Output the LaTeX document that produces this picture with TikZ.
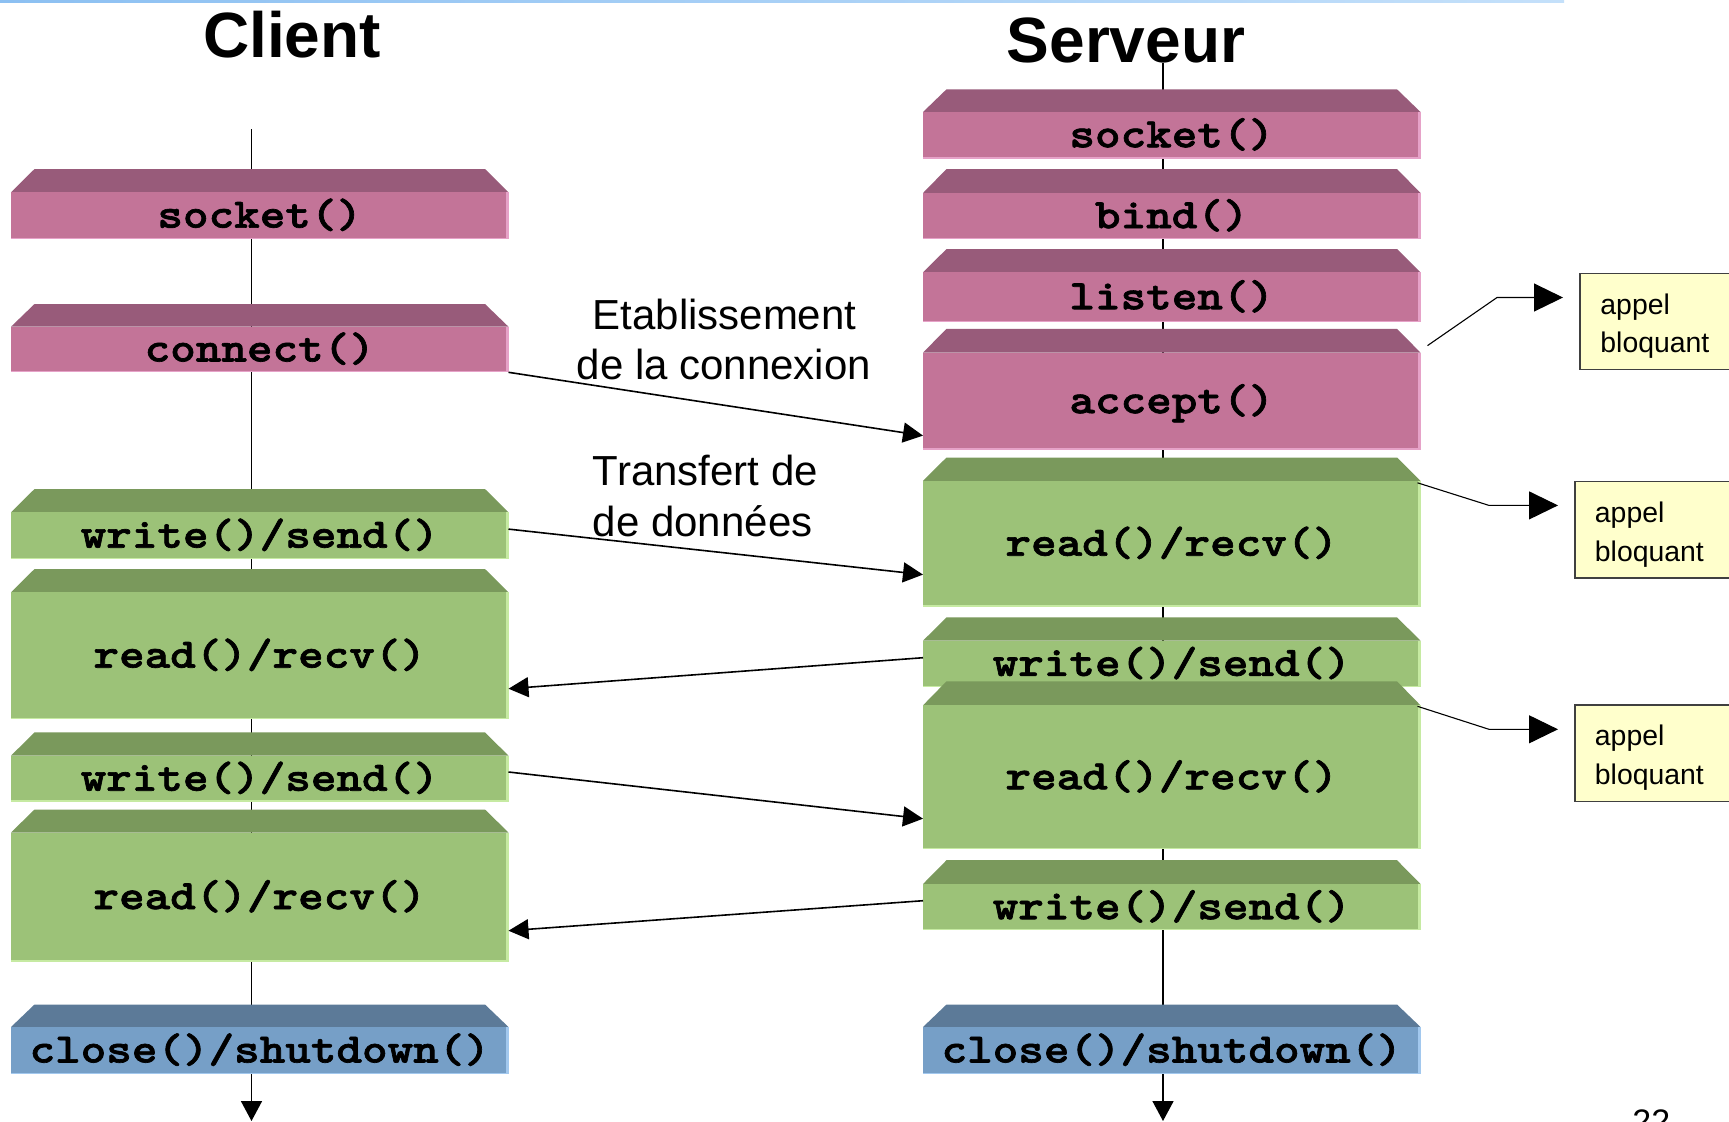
\documentclass[tikz,border=0pt]{standalone}
\usepackage{fontspec}
\setmainfont{Liberation Sans}
\newfontfamily\codefont{lmmonolt10-bold.otf}[FakeBold=1.6, FakeStretch=1.16]
\usetikzlibrary{calc,arrows.meta}
\definecolor{pinkface}{HTML}{C37498}
\definecolor{pinkbevel}{HTML}{985B7A}
\definecolor{pinkedge}{HTML}{E6A2C8}
\definecolor{greenface}{HTML}{9CC278}
\definecolor{greenbevel}{HTML}{7A995C}
\definecolor{greenedge}{HTML}{C6EAA2}
\definecolor{blueface}{HTML}{769FC7}
\definecolor{bluebevel}{HTML}{5C7A98}
\definecolor{blueedge}{HTML}{A2C8EE}
\definecolor{noteyellow}{HTML}{FFFFCC}
\definecolor{topblueA}{HTML}{8CC0F2}
\definecolor{topblueB}{HTML}{C4E0FA}
\tikzset{
  face/.style={inner sep=0pt, outer sep=0pt, draw=none, anchor=north west, minimum width=248.75pt},
  code/.style={font=\codefont\fontsize{21}{25}\selectfont, inner sep=0pt, anchor=base},
  titletext/.style={font=\bfseries\fontsize{32}{38}\selectfont, inner sep=0pt, anchor=base},
  labeltext/.style={font=\fontsize{21}{25}\selectfont, inner sep=0pt},
  notebox/.style={draw=black!75, line width=0.6pt, fill=noteyellow, anchor=north west, inner sep=0pt, outer sep=0pt},
  notetext/.style={font=\fontsize{14.2}{18}\selectfont, inner sep=0pt, anchor=base west},
  conn/.style={line width=0.8pt, -{Triangle[length=10pt,width=10pt]}},
  life/.style={line width=0.8pt, -{Triangle[length=10pt,width=10.5pt]}},
  callout/.style={line width=0.55pt, -{Triangle[length=14.5pt,width=14pt]}},
}
\newcommand{\slab}[7]{%
  \fill[#6bevel] (#2,#4) -- (#2+23.5,#3) -- (#2+474,#3) -- (#2+497.5,#4) -- cycle;
  \pgfmathsetmacro{\slabh}{(#5-#4)*0.5}
  \node[face, fill=#6face, minimum height=\slabh pt] (#1) at (#2,#4) {};
  \fill[#6edge] ($(#1.north east)+(-3,0)$) rectangle (#1.south east);
  \fill[#6edge] ($(#1.south west)+(0,-1.5)$) rectangle (#1.south east);
  \node[code] (#1-t) at ($(#1.center)+(0,12)$) {#7};
}
\begin{document}
\begin{tikzpicture}[x=0.5pt,y=-0.5pt]
\useasboundingbox (0,0) rectangle (1729,1121);
\clip (0,0) rectangle (1729,1121);
\fill[white] (0,0) rectangle (1729,1121);
\shade[left color=topblueA, right color=topblueB] (0,0) rectangle (1564,2.5);

% titles
\node[titletext] (tclient) at (292,57) {Client};
\node[titletext] (tserveur) at (1126,62) {Serveur};

% lifelines
\coordinate (ctop) at (251.5,129);
\coordinate (cend) at (251.5,1121);
\coordinate (stop) at (1163,63);
\coordinate (send) at (1163,1121);
\draw[life] (ctop) -- (cend);
\draw[life] (stop) -- (send);

% client slabs
\slab{csocket}{11}{169}{192.3}{239}{pink}{socket()}
\slab{cconnect}{11}{304}{326.7}{372.3}{pink}{connect()}
\slab{cwrite1}{11}{489}{512.3}{559}{green}{write()/send()}
\slab{cread1}{11}{569}{592.3}{719}{green}{read()/recv()}
\slab{cwrite2}{11}{732.3}{755.7}{801.7}{green}{write()/send()}
\slab{cread2}{11}{809.5}{832.5}{961.7}{green}{read()/recv()}
\slab{cclose}{11}{1004.5}{1027}{1074}{blue}{close()/shutdown()}

% server slabs
\slab{ssocket}{923}{89.3}{112}{158.5}{pink}{socket()}
\slab{sbind}{923}{169}{193}{239.3}{pink}{bind()}
\slab{slisten}{923}{249}{272.4}{322}{pink}{listen()}
\slab{saccept}{923}{328.8}{352.6}{449.8}{pink}{accept()}
\slab{sread1}{923}{457.5}{480.8}{606.6}{green}{read()/recv()}
\slab{swrite1}{923}{617.3}{640.7}{687}{green}{write()/send()}
\slab{sread2}{923}{681.3}{705.3}{849.2}{green}{read()/recv()}
\slab{swrite2}{923}{860.2}{884}{930.4}{green}{write()/send()}
\slab{sclose}{923}{1004.5}{1027}{1074}{blue}{close()/shutdown()}

% labels
\node[labeltext, anchor=base] (lblA1) at (724.5,329) {Etablissement};
\node[labeltext, anchor=base] (lblA2) at (724,379) {de la connexion};
\node[labeltext, anchor=base west] (lblB1) at (592.5,485) {Transfert de};
\node[labeltext, anchor=base west] (lblB2) at (592.5,536) {de données};

% message connectors
\draw[conn] (cconnect.south east) -- ($(saccept.south west)+(0,-14.2)$);
\draw[conn] ($(cwrite1.north east)+(0,16.8)$) -- ($(sread1.south west)+(0,-32)$);
\draw[conn] ($(swrite1.north west)+(0,17)$) -- ($(cread1.south east)+(0,-30.3)$);
\draw[conn] ($(cwrite2.north east)+(0,16.3)$) -- ($(sread2.south west)+(0,-30.5)$);
\draw[conn] ($(swrite2.north west)+(0,16.7)$) -- ($(cread2.south east)+(0,-31)$);

% notes
\node[notebox, minimum width=90pt, minimum height=48.2pt] (note1) at (1580,273.2) {};
\node[notebox, minimum width=92.5pt, minimum height=48.25pt] (note2) at (1575,481.4) {};
\node[notebox, minimum width=92.5pt, minimum height=48.4pt] (note3) at (1575,705) {};
\node[notetext] (n1a) at (1600,314) {appel};
\node[notetext] (n1b) at (1600,352.5) {bloquant};
\node[notetext] (n2a) at (1594.5,522) {appel};
\node[notetext] (n2b) at (1594.5,561) {bloquant};
\node[notetext] (n3a) at (1594.5,745) {appel};
\node[notetext] (n3b) at (1594.5,784) {bloquant};

\coordinate (k1) at (1497,297.5);
\coordinate (t1) at (1563,297.5);
\coordinate (k2) at (1489,505.4);
\coordinate (t2) at (1558,505.4);
\coordinate (k3) at (1489,729.3);
\coordinate (t3) at (1558,729.3);
\draw[callout] ($(saccept.north east)+(7,-7)$) -- (k1) -- (t1);
\draw[callout] ($(sread1.north east)+(-3,2)$) -- (k2) -- (t2);
\draw[callout] ($(sread2.north east)+(-3,1)$) -- (k3) -- (t3);

% page number (cut off at the bottom edge, as in the reference)
\node[font=\fontsize{17}{20}\selectfont, inner sep=0pt, anchor=base west] (pnum) at (1632,1133) {22};
\end{tikzpicture}
\end{document}
